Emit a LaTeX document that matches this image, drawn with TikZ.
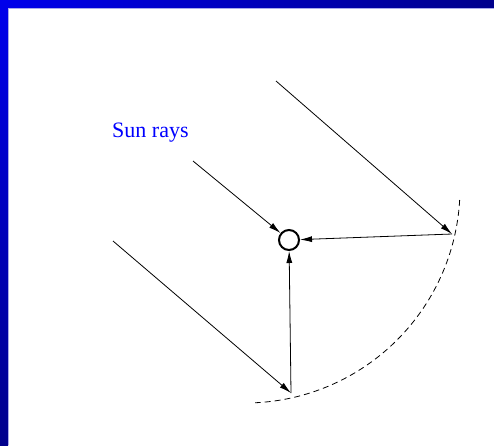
\documentclass[tikz,border=0pt]{standalone}
\usepackage{fontspec}
\setmainfont{Liberation Serif}
\usetikzlibrary{arrows.meta}
\definecolor{barblue}{RGB}{0,0,235}
\definecolor{barnavy}{RGB}{0,0,140}
\definecolor{rimblue}{RGB}{170,170,235}
\tikzset{
  ray/.style={line width=0.8pt,-{Latex[length=12pt,width=6pt]}},
  mirror/.style={line width=0.8pt,dash pattern=on 6pt off 4pt},
  sunnode/.style={circle,draw,line width=2pt,minimum size=20pt,inner sep=0pt},
  lbl/.style={text=blue,font=\fontsize{22pt}{26pt}\selectfont,inner sep=0pt}
}
\begin{document}
\begin{tikzpicture}[x=1pt,y=-1pt]
\useasboundingbox (0,0) rectangle (494,445);
\fill[white] (0,0) rectangle (494,445);
% border bars
\shade[left color=barblue,right color=barnavy] (0,0) rectangle (494,8);
\shade[top color=barblue,bottom color=barnavy] (0,0) rectangle (8,445);
\draw[rimblue,line width=0.8pt] (8.4,445) -- (8.4,8.4) -- (494,8.4);
% mirror
\draw[mirror] plot[domain=3.2:87.3,samples=80] ({245+215*cos(\x)},{188+215*sin(\x)});
% sun
\node[sunnode] (sun) at (289,240) {};
\coordinate (r1) at (276,81);
\coordinate (p1) at (452,234);
\coordinate (r2) at (193,161);
\coordinate (r3) at (113,241);
\coordinate (p2) at (291,393);
\draw[ray] (r1) -- (p1);
\draw[ray] (p1) -- (sun);
\draw[ray] (r2) -- (sun);
\draw[ray] (r3) -- (p2);
\draw[ray] (p2) -- (sun);
\node[lbl,anchor=west] (label) at (112,133) {Sun rays};
\end{tikzpicture}
\end{document}
